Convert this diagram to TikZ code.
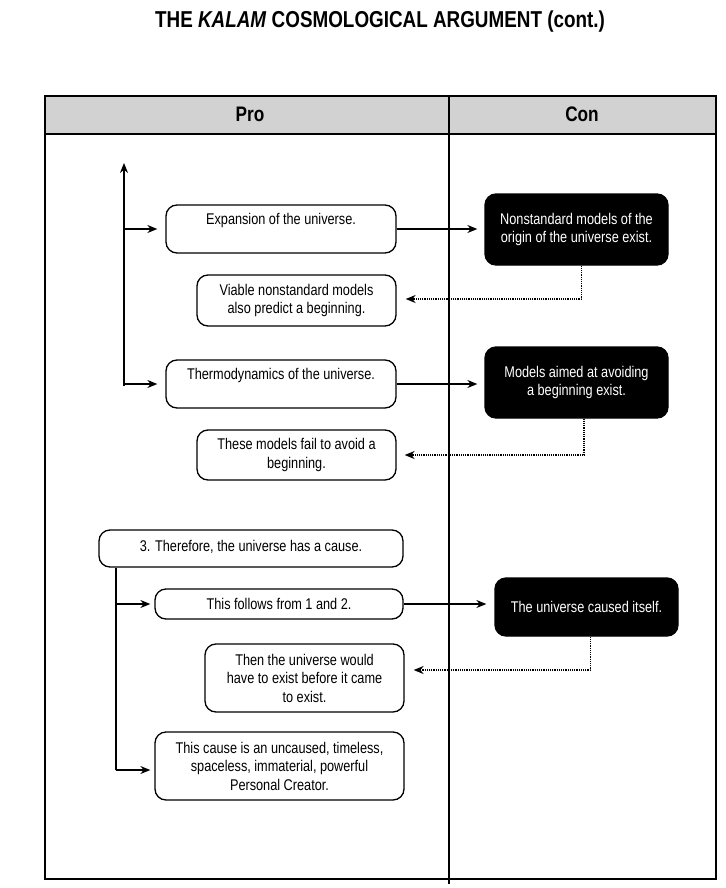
\documentclass[tikz,border=0pt]{standalone}
\usepackage{fontspec}
\setmainfont{Liberation Sans}[FakeStretch=0.82]
\usetikzlibrary{arrows.meta}
\begin{document}
\begin{tikzpicture}[x=1pt,y=-1pt,
  wbox/.style={draw=black, line width=1.3pt, rounded corners=11pt, fill=white, align=center, inner sep=2pt, font=\fontsize{15.5}{18.5}\selectfont},
  bbox/.style={draw=black, fill=black, line width=1.3pt, rounded corners=11pt, text=white, align=center, inner sep=2pt, font=\fontsize{15.5}{18.5}\selectfont},
  arr/.style={line width=1.2pt, -{Stealth[length=10pt,width=8pt]}},
  darr/.style={line width=1.2pt, densely dotted, -{Stealth[length=10pt,width=8pt]}},
  hdr/.style={font=\fontsize{21}{24}\selectfont\bfseries},
]
\useasboundingbox (0,0) rectangle (725,888);
% title
\node (title) at (380,22) {\fontsize{23}{26}\selectfont\bfseries THE \textit{KALAM} COSMOLOGICAL ARGUMENT (cont.)};
% table
\fill[gray!35] (45,96) rectangle (716,134);
\draw[line width=1.4pt] (45,96) rectangle (716,879);
\draw[line width=1.2pt] (45,134) -- (716,134);
\draw[line width=1.2pt] (449,96) -- (449,884);
\node[hdr] (pro) at (250,114) {Pro};
\node[hdr] (con) at (582,114) {Con};
% boxes upper
\node[wbox, minimum width=230pt, minimum height=48pt, text depth=20pt] (A) at (281,229) {Expansion of the universe.};
\node[wbox, minimum width=199pt, minimum height=51pt] (B) at (296.5,300.5) {Viable nonstandard models\\also predict a beginning.};
\node[wbox, minimum width=230pt, minimum height=48pt, text depth=20pt] (C) at (281,384) {Thermodynamics of the universe.};
\node[wbox, minimum width=199pt, minimum height=50pt] (D) at (296.5,455) {These models fail to avoid a\\beginning.};
\node[bbox, minimum width=183pt, minimum height=71pt] (E) at (576.5,229.5) {Nonstandard models of the\\origin of the universe exist.};
\node[bbox, minimum width=183pt, minimum height=71pt] (F) at (576.5,382.5) {Models aimed at avoiding\\a beginning exist.};
% boxes lower
\node[wbox, minimum width=304pt, minimum height=37pt, text depth=6pt] (H) at (251,548.5) {3. Therefore, the universe has a cause.};
\node[wbox, minimum width=248pt, minimum height=30pt] (I) at (279,604) {This follows from 1 and 2.};
\node[wbox, minimum width=199pt, minimum height=68pt] (J) at (304.5,678) {Then the universe would\\have to exist before it came\\to exist.};
\node[wbox, minimum width=249pt, minimum height=68pt] (K) at (279.5,766) {This cause is an uncaused, timeless,\\spaceless, immaterial, powerful\\Personal Creator.};
\node[bbox, minimum width=183pt, minimum height=58pt] (G) at (586.5,607) {The universe caused itself.};
% bracket 1
\coordinate (top1) at (124,163);
\coordinate (bot1) at (124,386);
\draw[arr] (bot1) -- (top1);
\draw[arr, shorten >=8pt] (A.west -| bot1) -- (A.west);
\draw[arr, shorten >=8pt] (C.west -| bot1) -- (C.west);
% pro -> con
\draw[arr, shorten >=7pt] (A.east) -- (A.east -| E.west);
\draw[arr, shorten >=7pt] (C.east) -- (C.east -| F.west);
\draw[darr, shorten >=9pt] ([xshift=5pt]E.south) |- ([yshift=1.5pt]B.east);
\draw[darr, shorten >=8pt] ([xshift=7.5pt]F.south) |- (D.east);
% bracket 2
\coordinate (bot2) at (116,770);
\draw[line width=1.2pt] (H.south -| bot2) -- (bot2);
\draw[arr, shorten >=4pt] (I.west -| bot2) -- (I.west);
\draw[arr, shorten >=4pt] (bot2) -- (bot2 -| K.west);
\draw[arr, shorten >=8pt] (I.east) -- (I.east -| G.west);
\draw[darr, shorten >=9pt] ([xshift=4pt]G.south) |- ([yshift=8pt]J.east);
\end{tikzpicture}
\end{document}
